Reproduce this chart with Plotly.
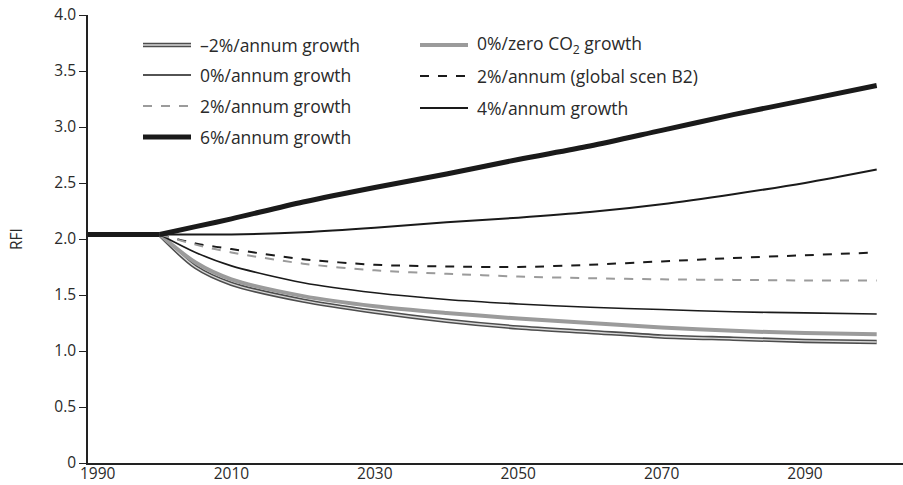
import plotly.graph_objects as go

# Shared history (1990-2000) and scenario projections of RFI
hist_years = [1990, 1997, 2000]
hist_rfi = [2.04, 2.04, 2.04]

years = [2000, 2005, 2010, 2020, 2030, 2040, 2050, 2060, 2070, 2080, 2090, 2100]

rfi_minus2 = [2.04, 1.75, 1.60, 1.45, 1.35, 1.27, 1.21, 1.17, 1.13, 1.11, 1.09, 1.08]
rfi_zero_co2 = [2.04, 1.79, 1.64, 1.49, 1.40, 1.34, 1.29, 1.25, 1.21, 1.18, 1.16, 1.15]
rfi_0 = [2.04, 1.88, 1.76, 1.61, 1.52, 1.46, 1.42, 1.39, 1.37, 1.35, 1.34, 1.33]
rfi_2 = [2.04, 1.95, 1.88, 1.78, 1.72, 1.69, 1.665, 1.65, 1.64, 1.635, 1.63, 1.63]
rfi_b2 = [2.04, 1.96, 1.91, 1.82, 1.77, 1.755, 1.75, 1.77, 1.80, 1.83, 1.855, 1.88]
rfi_4 = [2.04, 2.04, 2.04, 2.06, 2.10, 2.15, 2.19, 2.24, 2.31, 2.40, 2.50, 2.62]
rfi_6 = [2.04, 2.11, 2.18, 2.33, 2.46, 2.58, 2.71, 2.83, 2.97, 3.11, 3.24, 3.37]

first_year_label = "1990"
x_ticks = [2010, 2030, 2050, 2070, 2090]
y_ticks = [0, 0.5, 1.0, 1.5, 2.0, 2.5, 3.0, 3.5, 4.0]
y_tick_text = ["0", "0.5", "1.0", "1.5", "2.0", "2.5", "3.0", "3.5", "4.0"]

BLACK = "#1a1a1a"
GREY = "#9b9b9b"
TEXT = "#2a2a2a"
FONT = "Open Sans"
TICK_SIZE = 15.5
LEGEND_SIZE = 17.5

# Each style: (line colour, width, dash); the double line gets an inner stroke
styles = {
    "–2%/annum growth": ("#4d4d4d", 4.5, "solid"),
    "0%/zero CO<sub>2</sub> growth": (GREY, 4, "solid"),
    "0%/annum growth": (BLACK, 1.6, "solid"),
    "2%/annum (global scen B2)": (BLACK, 2, "dash"),
    "2%/annum growth": (GREY, 2, "dash"),
    "4%/annum growth": (BLACK, 2, "solid"),
    "6%/annum growth": (BLACK, 5, "solid"),
}
series = {
    "–2%/annum growth": rfi_minus2,
    "0%/zero CO<sub>2</sub> growth": rfi_zero_co2,
    "0%/annum growth": rfi_0,
    "2%/annum (global scen B2)": rfi_b2,
    "2%/annum growth": rfi_2,
    "4%/annum growth": rfi_4,
    "6%/annum growth": rfi_6,
}

fig = go.Figure()

for name, vals in series.items():
    color, width, dash = styles[name]
    fig.add_trace(go.Scatter(
        x=years, y=vals, mode="lines", name=name, showlegend=False,
        line=dict(color=color, width=width, dash=dash, shape="spline", smoothing=0.8),
        hoverinfo="skip",
    ))
    if name.startswith("–2%"):
        fig.add_trace(go.Scatter(
            x=years, y=vals, mode="lines", showlegend=False,
            line=dict(color="#d9d9d9", width=1.4, shape="spline", smoothing=0.8),
            hoverinfo="skip",
        ))

# Common history segment, drawn with the 6% style on top
fig.add_trace(go.Scatter(
    x=hist_years, y=hist_rfi, mode="lines", showlegend=False,
    line=dict(color=BLACK, width=5), hoverinfo="skip",
))

# Hand-laid two-column legend
L, R, T, B = 88, 903, 15, 463
def px(xp):
    return (xp - L) / (R - L)
def py(yp):
    return (B - yp) / (B - T)

legend_layout = [
    ("–2%/annum growth", 143, 45),
    ("0%/annum growth", 143, 75),
    ("2%/annum growth", 143, 106),
    ("6%/annum growth", 143, 137),
    ("0%/zero CO<sub>2</sub> growth", 420, 45),
    ("2%/annum (global scen B2)", 420, 76),
    ("4%/annum growth", 420, 108),
]
shapes = []
annotations = []
for name, x0, yy in legend_layout:
    color, width, dash = styles[name]
    shapes.append(dict(type="line", xref="paper", yref="paper",
                       x0=px(x0), x1=px(x0 + 48), y0=py(yy), y1=py(yy),
                       line=dict(color=color, width=width, dash=dash)))
    if name.startswith("–2%"):
        shapes.append(dict(type="line", xref="paper", yref="paper",
                           x0=px(x0), x1=px(x0 + 48), y0=py(yy), y1=py(yy),
                           line=dict(color="#d9d9d9", width=1.4)))
    annotations.append(dict(text=name, xref="paper", yref="paper",
                            x=px(x0 + 55), y=py(yy), xanchor="left", yanchor="middle",
                            showarrow=False,
                            font=dict(family=FONT, size=LEGEND_SIZE, color=TEXT)))

# First year label sits a little right of the axis corner
annotations.append(dict(text=first_year_label, xref="x", yref="paper",
                        x=int(first_year_label), y=0,
                        xshift=10, yshift=3, xanchor="center", yanchor="top",
                        showarrow=False,
                        font=dict(family=FONT, size=TICK_SIZE, color=TEXT)))

fig.update_layout(
    width=903, height=485,
    margin=dict(l=L, r=0, t=T, b=485 - B),
    paper_bgcolor="white", plot_bgcolor="white",
    font=dict(family=FONT, size=TICK_SIZE, color=TEXT),
    shapes=shapes, annotations=annotations,
    xaxis=dict(range=[1990, 1990 + (R - L) / 7.17], tickvals=x_ticks,
               automargin=False, ticklabelstandoff=-4,
               showgrid=False, zeroline=False, showline=True,
               linecolor="#222", linewidth=1.5, ticks="", ticklen=0,
               tickfont=dict(family=FONT, size=TICK_SIZE, color=TEXT)),
    yaxis=dict(range=[0, 4.0], tickvals=y_ticks, ticktext=y_tick_text,
               automargin=False,
               showgrid=False, zeroline=False, showline=True,
               linecolor="#222", linewidth=1.5, ticks="outside", ticklen=7,
               tickcolor="#222", tickwidth=1.2,
               tickfont=dict(family=FONT, size=TICK_SIZE, color=TEXT),
               title=dict(text="RFI", standoff=28,
                          font=dict(family=FONT, size=TICK_SIZE, color=TEXT))),
)

fig.write_html("out.html")
